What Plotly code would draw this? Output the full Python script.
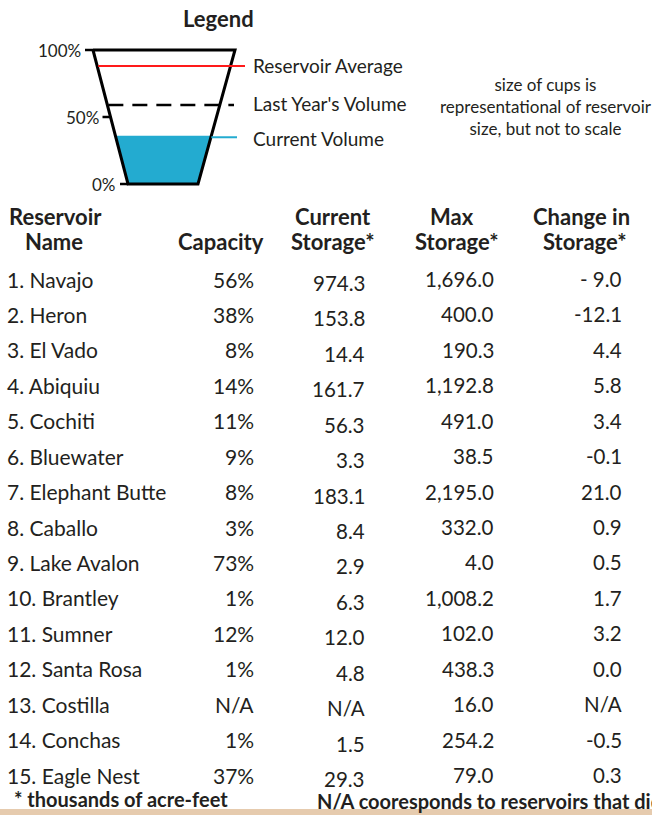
import plotly.graph_objects as go

# ---------------- data ----------------
reservoir_names = ["Navajo", "Heron", "El Vado", "Abiquiu", "Cochiti", "Bluewater",
                   "Elephant Butte", "Caballo", "Lake Avalon", "Brantley", "Sumner",
                   "Santa Rosa", "Costilla", "Conchas", "Eagle Nest"]
capacity = ["56%", "38%", "8%", "14%", "11%", "9%", "8%", "3%", "73%", "1%", "12%",
            "1%", "N/A", "1%", "37%"]
current_storage = ["974.3", "153.8", "14.4", "161.7", "56.3", "3.3", "183.1", "8.4",
                   "2.9", "6.3", "12.0", "4.8", "N/A", "1.5", "29.3"]
max_storage = ["1,696.0", "400.0", "190.3", "1,192.8", "491.0", "38.5", "2,195.0",
               "332.0", "4.0", "1,008.2", "102.0", "438.3", "16.0", "254.2", "79.0"]
change_storage = ["- 9.0", "-12.1", "4.4", "5.8", "3.4", "-0.1", "21.0", "0.9", "0.5",
                  "1.7", "3.2", "0.0", "N/A", "-0.5", "0.3"]

# legend cup levels (percent of capacity)
legend_levels = {"Reservoir Average": 88, "Last Year's Volume": 59, "Current Volume": 36}
cup_ticks = [100, 50, 0]

FONT = "Lato"
INK = "#231f20"
W, H = 652, 815

# ---------------- helpers (pixel layout) ----------------
CUP_TOP, CUP_BOT = 50, 184
TL, TR, BL, BR = 93, 235, 128, 198


def py(p):
    return CUP_BOT - (CUP_BOT - CUP_TOP) * p / 100.0


def lx(p):
    return BL + (TL - BL) * p / 100.0


def rx(p):
    return BR + (TR - BR) * p / 100.0


fig = go.Figure()

# water fill
cur = legend_levels["Current Volume"]
fig.add_trace(go.Scatter(
    x=[lx(0), rx(0), rx(cur), lx(cur), lx(0)],
    y=[py(0), py(0), py(cur), py(cur), py(0)],
    fill="toself", fillcolor="#23abd0", line=dict(width=0), mode="lines",
    hoverinfo="skip", showlegend=False))

# cup outline
fig.add_trace(go.Scatter(
    x=[lx(100), rx(100), rx(0), lx(0), lx(100)],
    y=[py(100), py(100), py(0), py(0), py(100)],
    mode="lines", line=dict(color="black", width=3), hoverinfo="skip", showlegend=False))

# level lines
avg = legend_levels["Reservoir Average"]
last = legend_levels["Last Year's Volume"]
fig.add_trace(go.Scatter(x=[lx(avg) + 1, 245], y=[py(avg), py(avg)], mode="lines",
                         line=dict(color="#ff1a1a", width=2), hoverinfo="skip", showlegend=False))
fig.add_trace(go.Scatter(x=[lx(last) + 1, 234], y=[py(last), py(last)], mode="lines",
                         line=dict(color="black", width=2.5, dash="15px,9px"),
                         hoverinfo="skip", showlegend=False))
fig.add_trace(go.Scatter(x=[rx(cur), 237], y=[py(cur) + 1.5, py(cur) + 1.5], mode="lines",
                         line=dict(color="#23abd0", width=2), hoverinfo="skip", showlegend=False))

# ticks
for t in cup_ticks:
    fig.add_trace(go.Scatter(x=[lx(t) - 8, lx(t)], y=[py(t), py(t)], mode="lines",
                             line=dict(color="black", width=2.5), hoverinfo="skip",
                             showlegend=False))

ann = []


def text(x, y, s, size=20, bold=False, xanchor="left", color=INK):
    ann.append(dict(x=x, y=y, xref="x", yref="y", text=(f"<b>{s}</b>" if bold else s),
                    showarrow=False, xanchor=xanchor, yanchor="middle",
                    font=dict(family=FONT, size=size, color=color)))


for t in cup_ticks:
    text(lx(t) - 10, py(t), f"{t}%", size=17, xanchor="right")

text(218, 18, "Legend", size=22, bold=True, xanchor="center")
label_y = [65, 103, 138]
for (lab, _), yy in zip(legend_levels.items(), label_y):
    text(251, yy, lab, size=19)

ann.append(dict(x=546, y=106, xref="x", yref="y", showarrow=False, xanchor="center",
                yanchor="middle", align="center",
                text="size of cups is<br>representational of reservoir<br>size, but not to scale",
                font=dict(family=FONT, size=17, color=INK)))

# headers
HB = 22
text(7, 216, "Reservoir", size=HB, bold=True)
text(54, 241, "Name", size=HB, bold=True, xanchor="center")
text(221, 241, "Capacity", size=HB, bold=True, xanchor="center")
text(333, 216, "Current", size=HB, bold=True, xanchor="center")
text(333, 241, "Storage*", size=HB, bold=True, xanchor="center")
text(452, 216, "Max", size=HB, bold=True, xanchor="center")
text(457, 241, "Storage*", size=HB, bold=True, xanchor="center")
text(581, 216, "Change in", size=HB, bold=True, xanchor="center")
text(585, 241, "Storage*", size=HB, bold=True, xanchor="center")

ROW0, DY = 279, 35.43
for i, nm in enumerate(reservoir_names):
    y = ROW0 + i * DY
    text(5, y, f"{i + 1}. {nm}", size=21)
    text(256, y, capacity[i], size=21, xanchor="right")
    text(367, y + 4, current_storage[i], size=20.5, xanchor="right")
    text(496, y, max_storage[i], size=20.5, xanchor="right")
    text(624, y, change_storage[i], size=20.5, xanchor="right")

text(12, 799, "* thousands of acre-feet", size=20, bold=True)
text(315, 801, "N/A cooresponds to reservoirs that did not report", size=20, bold=True)

fig.update_layout(
    width=W, height=H, margin=dict(l=0, r=0, t=0, b=0),
    paper_bgcolor="white", plot_bgcolor="white",
    xaxis=dict(range=[0, W], visible=False, fixedrange=True),
    yaxis=dict(range=[H, 0], visible=False, fixedrange=True),
    annotations=ann,
    shapes=[dict(type="rect", xref="x", yref="y", x0=0, x1=W, y0=809, y1=H,
                 fillcolor="#e6cbae", line=dict(width=0), layer="below")],
    showlegend=False,
)

fig.write_html("out.html", config={"displayModeBar": False},
               post_script="document.body.style.margin='0';document.body.style.overflow='hidden';")
